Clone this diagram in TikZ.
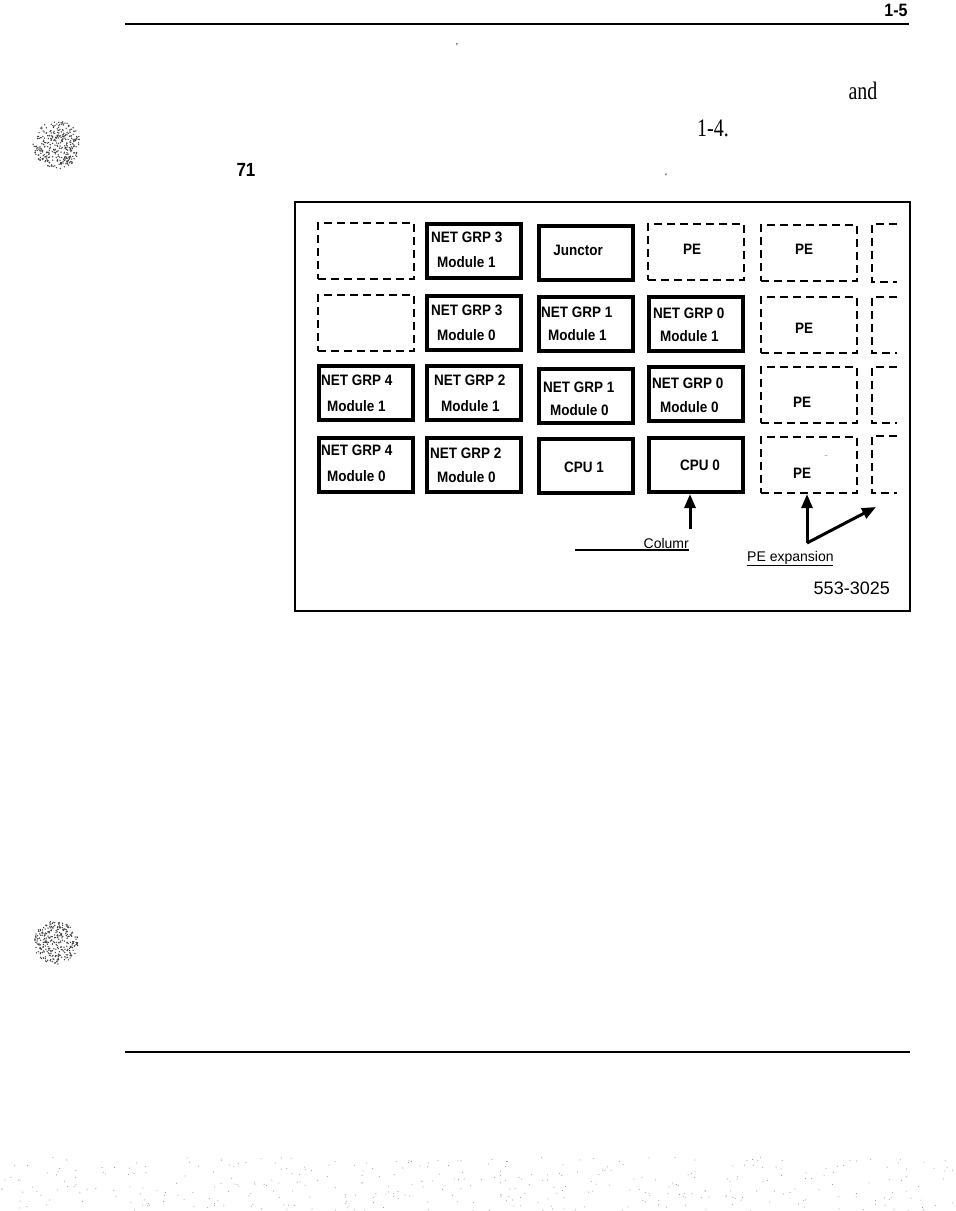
\documentclass[tikz,border=0pt]{standalone}
\usepackage{fontspec}
\setmainfont{Liberation Serif}
\newfontfamily\arialfont{Liberation Sans}
\usetikzlibrary{arrows.meta,calc}
\newcommand{\tallx}[1]{\scalebox{1}[1.12]{#1}}
\newcommand{\tallser}[1]{\scalebox{0.95}[1.2]{#1}}
\begin{document}
\begin{tikzpicture}[x=1pt,y=-1pt,
  solidbox/.style={draw, line width=4pt, minimum width=94pt, minimum height=54pt, inner sep=0pt},
  dashbox/.style={draw, line width=2.2pt, dash pattern=on 8pt off 5pt, minimum width=96pt, minimum height=56pt, inner sep=0pt},
  partdash/.style={line width=2.2pt, dash pattern=on 8pt off 5pt},
  lbl/.style={font=\arialfont\bfseries\fontsize{13.5}{14}\selectfont, inner sep=0pt, anchor=west},
  clbl/.style={font=\arialfont\bfseries\fontsize{13.5}{14}\selectfont, inner sep=0pt},
  plain/.style={font=\arialfont\fontsize{14}{15}\selectfont, inner sep=0pt},
  arr/.style={line width=3pt, -{Triangle[length=14pt,width=11pt]}},
  rule/.style={line width=2pt}]
\useasboundingbox (0,0) rectangle (956,1211);
\fill[white] (0,0) rectangle (956,1211);

% page header and rules
\node[font=\arialfont\bfseries\fontsize{16}{17}\selectfont, inner sep=0pt] (pagenum) at (896,10) {\tallx{1-5}};
\coordinate (toprulel) at (125,24);
\coordinate (topruler) at (909,24);
\draw[rule] (toprulel) -- (topruler);
\coordinate (botrulel) at (125,1052);
\coordinate (botruler) at (910,1052);
\draw[line width=1.6pt] (botrulel) -- (botruler);

% body text fragments
\node[font=\fontsize{9}{9}\selectfont, inner sep=0pt] (tick1) at (457,45) {,};
\node[font=\fontsize{21}{22}\selectfont, inner sep=0pt] (andtxt) at (863,91) {\tallser{and}};
\node[font=\fontsize{21}{22}\selectfont, inner sep=0pt] (fig14) at (713,128) {\tallser{1-4.}};
\node[font=\arialfont\bfseries\fontsize{17}{18}\selectfont, inner sep=0pt] (seventyone) at (246,170) {\tallx{71}};
\node[font=\fontsize{9}{9}\selectfont, inner sep=0pt] (tick2) at (666,176) {`};

% frame
\coordinate (fa) at (295,202);
\coordinate (fb) at (910,202);
\coordinate (fc) at (910,611);
\coordinate (fd) at (295,611);
\draw[line width=2pt] (fa) -- (fb) -- (fc) -- (fd) -- cycle;

% column 1
\node[dashbox] (d11) at (366,251) {};
\node[dashbox] (d12) at (366,323) {};
\node[solidbox] (n41) at (366,393) {};
\node[lbl] at (321,380) {\tallx{NET GRP 4}};
\node[lbl] at (327,406) {\tallx{Module 1}};
\node[solidbox] (n40) at (366,465) {};
\node[lbl] at (321,450) {\tallx{NET GRP 4}};
\node[lbl] at (327,476) {\tallx{Module 0}};

% column 2
\node[solidbox] (n31) at (474,251) {};
\node[lbl] at (431,237) {\tallx{NET GRP 3}};
\node[lbl] at (437,262) {\tallx{Module 1}};
\node[solidbox] (n30) at (474,323) {};
\node[lbl] at (431,310) {\tallx{NET GRP 3}};
\node[lbl] at (437,335) {\tallx{Module 0}};
\node[solidbox] (n21) at (474,393) {};
\node[lbl] at (434,380) {\tallx{NET GRP 2}};
\node[lbl] at (441,406) {\tallx{Module 1}};
\node[solidbox] (n20) at (474,465) {};
\node[lbl] at (430,453) {\tallx{NET GRP 2}};
\node[lbl] at (437,477) {\tallx{Module 0}};

% column 3
\node[solidbox] (junctor) at (586,253) {};
\node[clbl] at (578,250) {\tallx{Junctor}};
\node[solidbox] (n11) at (586,324) {};
\node[lbl] at (541,312) {\tallx{NET GRP 1}};
\node[lbl] at (548,335) {\tallx{Module 1}};
\node[solidbox] (n10) at (586,396) {};
\node[lbl] at (543,387) {\tallx{NET GRP 1}};
\node[lbl] at (550,410) {\tallx{Module 0}};
\node[solidbox] (cpu1) at (586,466) {};
\node[clbl] at (584,467) {\tallx{CPU 1}};

% column 4
\node[dashbox] (pe41) at (696,252) {};
\node[clbl] at (692,249) {\tallx{PE}};
\node[solidbox] (n01) at (696,324) {};
\node[lbl] at (653,313) {\tallx{NET GRP 0}};
\node[lbl] at (660,336) {\tallx{Module 1}};
\node[solidbox] (n00) at (696,394) {};
\node[lbl] at (652,383) {\tallx{NET GRP 0}};
\node[lbl] at (660,407) {\tallx{Module 0}};
\node[solidbox] (cpu0) at (696,465) {};
\node[clbl] at (700,465) {\tallx{CPU 0}};

% column 5
\node[dashbox] (pe51) at (809,253) {};
\node[clbl] at (804,249) {\tallx{PE}};
\node[dashbox] (pe52) at (809,325) {};
\node[clbl] at (804,328) {\tallx{PE}};
\node[dashbox] (pe53) at (809,395) {};
\node[clbl] at (802,402) {\tallx{PE}};
\node[dashbox] (pe54) at (809,465) {};
\node[clbl] at (802,473) {\tallx{PE}};
\node[font=\arialfont\fontsize{6}{6}\selectfont, inner sep=0pt] (dots54) at (826,456) {..};

% column 6 (partial)
\draw[partdash] (897,224) -- (872,224) -- (872,282) -- (897,282);
\draw[partdash] (897,297) -- (872,297) -- (872,353) -- (897,353);
\draw[partdash] (897,367) -- (872,367) -- (872,423) -- (897,423);
\draw[partdash] (897,436) -- (872,436) -- (872,493) -- (897,493);

% Column arrow
\coordinate (colbase) at (690,529);
\draw[arr] (colbase) -- (colbase |- cpu0.south);
\node[plain, anchor=east] (coltxt) at (689,543) {Columr};
\coordinate (ula) at (575,550);
\coordinate (ulb) at (689,550);
\draw[line width=1.3pt] (ula) -- (ulb);

% PE expansion arrows
\coordinate (pebase) at (807,543);
\coordinate (petip) at (876,507);
\draw[arr] (pebase) -- (pebase |- pe54.south);
\draw[arr] (pebase) -- (petip);
\node[plain, anchor=west] (petxt) at (747,558) {PE expansion};
\coordinate (pula) at (747,565);
\coordinate (pulb) at (833,565);
\draw[line width=1pt] (pula) -- (pulb);

% figure number
\node[font=\arialfont\fontsize{18}{19}\selectfont, inner sep=0pt, anchor=east] (fignum) at (890,588) {553-3025};

% halftone marks in the margin
\pgfmathsetseed{7}
\foreach \k in {1,...,340} {
  \pgfmathsetmacro\rr{24*sqrt(rnd)}
  \pgfmathsetmacro\aa{360*rnd}
  \fill[black!75] ($(57,145)+(\aa:\rr)$) circle (0.75pt);
}
\foreach \k in {1,...,300} {
  \pgfmathsetmacro\rr{22*sqrt(rnd)}
  \pgfmathsetmacro\aa{360*rnd}
  \fill[black!75] ($(56,943)+(\aa:\rr)$) circle (0.75pt);
}
% scanner noise at the bottom
\foreach \k in {1,...,380} {
  \pgfmathsetmacro\xx{956*rnd}
  \pgfmathsetmacro\yy{1157+54*rnd}
  \fill[black!45] (\xx,\yy) circle (0.5pt);
}
\end{tikzpicture}
\end{document}
